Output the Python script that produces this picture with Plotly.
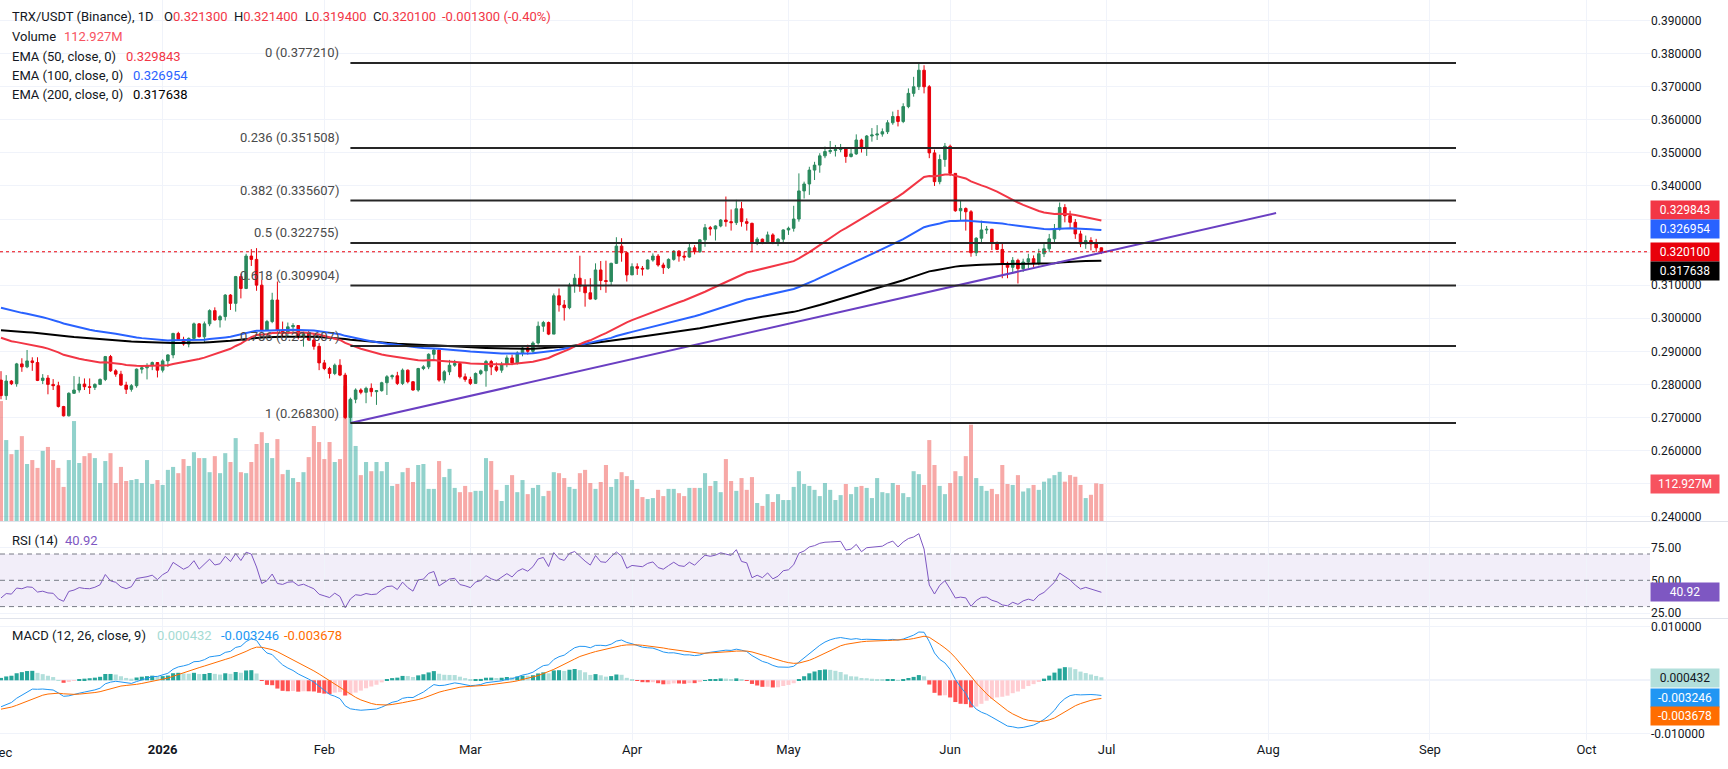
import pandas as pd
import plotly.graph_objects as go

# ---------------- data ----------------
start_date = "2025-12-01"
first_open = 0.2813

close = [
    0.2766, 0.2810, 0.2802, 0.2862, 0.2853, 0.2871, 0.2866, 0.2812, 0.2819, 0.2800,
    0.2796, 0.2733, 0.2705, 0.2773, 0.2783, 0.2801, 0.2793, 0.2791, 0.2800, 0.2815,
    0.2884, 0.2841, 0.2831, 0.2798, 0.2785, 0.2796, 0.2846, 0.2850, 0.2857, 0.2866,
    0.2843, 0.2871, 0.2889, 0.2954, 0.2936, 0.2922, 0.2939, 0.2983, 0.2944, 0.2983,
    0.3023, 0.2995, 0.3005, 0.3070, 0.3045, 0.3126, 0.3090, 0.3188, 0.3178, 0.3100,
    0.2964, 0.2990, 0.3055, 0.2964, 0.2954, 0.2974, 0.2978, 0.2944, 0.2954, 0.2934,
    0.2915, 0.2865, 0.2848, 0.2833, 0.2858, 0.2828, 0.2700, 0.2755, 0.2783, 0.2776,
    0.2788, 0.2778, 0.2781, 0.2805, 0.2823, 0.2826, 0.2803, 0.2843, 0.2808, 0.2783,
    0.2848, 0.2853, 0.2891, 0.2904, 0.2813, 0.2838, 0.2858, 0.2863, 0.2823, 0.2815,
    0.2803, 0.2833, 0.2841, 0.2869, 0.2853, 0.2843, 0.2860, 0.2880, 0.2865, 0.2895,
    0.2910, 0.2900, 0.2925, 0.2976, 0.2987, 0.2952, 0.3068, 0.3040, 0.3032, 0.3100,
    0.3121, 0.3097, 0.3077, 0.3058, 0.3146, 0.3114, 0.3111, 0.3166, 0.3218, 0.3198,
    0.3131, 0.3156, 0.3151, 0.3149, 0.3176, 0.3188, 0.3161, 0.3153, 0.3178, 0.3203,
    0.3188, 0.3185, 0.3213, 0.3201, 0.3237, 0.3274, 0.3270, 0.3279, 0.3297, 0.3292,
    0.3289, 0.3331, 0.3292, 0.3287, 0.3226, 0.3239, 0.3228, 0.3252, 0.3226, 0.3239,
    0.3267, 0.3272, 0.3300, 0.3385, 0.3406, 0.3448, 0.3463, 0.3491, 0.3504, 0.3507,
    0.3510, 0.3514, 0.3489, 0.3497, 0.3539, 0.3517, 0.3551, 0.3554, 0.3557, 0.3564,
    0.3591, 0.3610, 0.3595, 0.3640, 0.3680, 0.3700, 0.3750, 0.3700, 0.3500, 0.3413,
    0.3480, 0.3520, 0.3438, 0.3325, 0.3332, 0.3322, 0.3198, 0.3242, 0.3267, 0.3269,
    0.3229, 0.3208, 0.3166, 0.3154, 0.3175, 0.3150, 0.3170, 0.3180, 0.3165, 0.3195,
    0.3210, 0.3240, 0.3270, 0.3335, 0.3310, 0.3290, 0.3255, 0.3225, 0.3235, 0.3225,
    0.3213, 0.3201,
]
high = [
    0.2840, 0.2828, 0.2813, 0.2865, 0.2879, 0.2904, 0.2882, 0.2882, 0.2831, 0.2828,
    0.2816, 0.2808, 0.2735, 0.2776, 0.2825, 0.2823, 0.2818, 0.2818, 0.2803, 0.2818,
    0.2886, 0.2889, 0.2846, 0.2841, 0.2808, 0.2801, 0.2848, 0.2853, 0.2864, 0.2869,
    0.2866, 0.2876, 0.2891, 0.2956, 0.2959, 0.2944, 0.2942, 0.2987, 0.2985, 0.2990,
    0.3027, 0.3033, 0.3010, 0.3073, 0.3073, 0.3128, 0.3135, 0.3195, 0.3209, 0.3212,
    0.3116, 0.2995, 0.3077, 0.3111, 0.2990, 0.2987, 0.2985, 0.2969, 0.2959, 0.2962,
    0.2954, 0.2925, 0.2874, 0.2853, 0.2863, 0.2876, 0.2835, 0.2760, 0.2788, 0.2788,
    0.2793, 0.2803, 0.2783, 0.2808, 0.2828, 0.2830, 0.2838, 0.2848, 0.2845, 0.2810,
    0.2850, 0.2858, 0.2894, 0.2909, 0.2906, 0.2843, 0.2874, 0.2874, 0.2858, 0.2833,
    0.2823, 0.2836, 0.2845, 0.2874, 0.2874, 0.2866, 0.2868, 0.2888, 0.2890, 0.2900,
    0.2918, 0.2920, 0.2930, 0.2990, 0.2992, 0.2990, 0.3075, 0.3090, 0.3055, 0.3107,
    0.3134, 0.3189, 0.3118, 0.3121, 0.3166, 0.3173, 0.3174, 0.3168, 0.3245, 0.3242,
    0.3201, 0.3166, 0.3166, 0.3158, 0.3178, 0.3196, 0.3194, 0.3168, 0.3181, 0.3206,
    0.3206, 0.3201, 0.3228, 0.3221, 0.3239, 0.3285, 0.3279, 0.3281, 0.3300, 0.3368,
    0.3329, 0.3358, 0.3352, 0.3302, 0.3289, 0.3245, 0.3241, 0.3262, 0.3257, 0.3242,
    0.3269, 0.3277, 0.3340, 0.3438, 0.3413, 0.3458, 0.3473, 0.3499, 0.3519, 0.3536,
    0.3524, 0.3527, 0.3517, 0.3517, 0.3556, 0.3543, 0.3554, 0.3575, 0.3584, 0.3574,
    0.3599, 0.3625, 0.3630, 0.3650, 0.3695, 0.3730, 0.37721, 0.3765, 0.3705, 0.3510,
    0.3495, 0.3530, 0.3525, 0.3438, 0.3357, 0.3335, 0.3327, 0.3245, 0.3295, 0.3279,
    0.3270, 0.3232, 0.3229, 0.3171, 0.3185, 0.3180, 0.3180, 0.3195, 0.3190, 0.3210,
    0.3230, 0.3255, 0.3285, 0.3350, 0.3345, 0.3325, 0.3300, 0.3265, 0.3250, 0.3245,
    0.3240, 0.3214,
]
low = [
    0.2755, 0.2753, 0.2798, 0.2793, 0.2838, 0.2849, 0.2841, 0.2810, 0.2801, 0.2770,
    0.2783, 0.2730, 0.2703, 0.2703, 0.2771, 0.2775, 0.2783, 0.2771, 0.2783, 0.2798,
    0.2810, 0.2838, 0.2823, 0.2796, 0.2771, 0.2778, 0.2790, 0.2833, 0.2815, 0.2843,
    0.2821, 0.2836, 0.2853, 0.2879, 0.2934, 0.2917, 0.2912, 0.2936, 0.2942, 0.2926,
    0.2976, 0.2993, 0.2972, 0.2993, 0.3025, 0.3020, 0.3060, 0.3088, 0.3158, 0.3083,
    0.2960, 0.2962, 0.2985, 0.2959, 0.2944, 0.2944, 0.2957, 0.2936, 0.2914, 0.2932,
    0.2905, 0.2843, 0.2843, 0.2818, 0.2828, 0.2825, 0.2695, 0.2683, 0.2743, 0.2770,
    0.2743, 0.2763, 0.2738, 0.2778, 0.2768, 0.2815, 0.2798, 0.2798, 0.2803, 0.2781,
    0.2778, 0.2843, 0.2846, 0.2874, 0.2808, 0.2803, 0.2828, 0.2853, 0.2818, 0.2808,
    0.2798, 0.2803, 0.2828, 0.2793, 0.2828, 0.2838, 0.2835, 0.2852, 0.2858, 0.2860,
    0.2885, 0.2890, 0.2895, 0.2920, 0.2959, 0.2949, 0.2952, 0.3020, 0.2993, 0.3027,
    0.3077, 0.3080, 0.3035, 0.3057, 0.3055, 0.3085, 0.3077, 0.3099, 0.3164, 0.3171,
    0.3111, 0.3131, 0.3131, 0.3129, 0.3148, 0.3171, 0.3156, 0.3134, 0.3149, 0.3174,
    0.3171, 0.3174, 0.3183, 0.3193, 0.3198, 0.3216, 0.3250, 0.3235, 0.3275, 0.3277,
    0.3265, 0.3282, 0.3277, 0.3265, 0.3201, 0.3221, 0.3224, 0.3226, 0.3224, 0.3218,
    0.3226, 0.3252, 0.3262, 0.3292, 0.3362, 0.3373, 0.3418, 0.3440, 0.3484, 0.3497,
    0.3489, 0.3502, 0.3470, 0.3486, 0.3494, 0.3501, 0.3491, 0.3534, 0.3539, 0.3549,
    0.3557, 0.3585, 0.3580, 0.3590, 0.3635, 0.3670, 0.3690, 0.3680, 0.3484, 0.3400,
    0.3405, 0.3458, 0.3430, 0.3322, 0.3295, 0.3265, 0.3186, 0.3188, 0.3227, 0.3255,
    0.3206, 0.3206, 0.3121, 0.3121, 0.3135, 0.3105, 0.3140, 0.3150, 0.3155, 0.3160,
    0.3185, 0.3200, 0.3230, 0.3265, 0.3290, 0.3270, 0.3240, 0.3215, 0.3210, 0.3205,
    0.3200, 0.3194,
]
volume_m = [
    366, 247, 204, 217, 259, 174, 186, 162, 214, 226,
    186, 162, 104, 186, 305, 177, 198, 207, 192, 116,
    183, 207, 116, 165, 122, 125, 128, 116, 186, 113,
    125, 110, 156, 165, 146, 189, 168, 210, 192, 192,
    149, 198, 146, 207, 180, 253, 149, 146, 180, 235,
    271, 238, 192, 250, 143, 156, 131, 119, 149, 195,
    290, 241, 189, 241, 180, 189, 413, 369, 229, 140,
    180, 152, 180, 152, 180, 107, 113, 149, 162, 119,
    171, 174, 98, 98, 183, 134, 159, 101, 88, 107,
    88, 92, 92, 192, 183, 95, 61, 110, 140, 88,
    125, 82, 101, 110, 76, 92, 149, 146, 131, 104,
    98, 146, 156, 116, 98, 119, 171, 104, 128, 149,
    137, 125, 98, 73, 67, 70, 95, 76, 98, 98,
    85, 76, 101, 101, 101, 146, 107, 122, 88, 189,
    122, 92, 131, 95, 134, 55, 46, 82, 58, 82,
    64, 64, 104, 152, 113, 107, 95, 76, 116, 95,
    64, 79, 113, 82, 104, 107, 101, 70, 131, 88,
    85, 116, 110, 85, 73, 152, 143, 110, 247, 171,
    107, 82, 116, 152, 137, 198, 294, 131, 107, 92,
    98, 82, 171, 113, 110, 140, 90, 100, 110, 95,
    120, 130, 140, 150, 120, 140, 135, 110, 70, 80,
    115, 112.927,
]

# indicator seeds (state just before the first visible bar)
ema_seeds = {50: 0.2948, 100: 0.3037, 200: 0.2966}
macd_seeds = {"fast": 0.2805, "slow": 0.2855, "signal": -0.0055}
rsi_seeds = {"avg_gain": 0.0024, "avg_loss": 0.0038}

# Fibonacci retracement (anchors + level values shown on the chart)
fib_dates = ["2026-02-06", "2026-09-06"]
fib_ratios = ["0", "0.236", "0.382", "0.5", "0.618", "0.786", "1"]
fib_values = [0.377210, 0.351508, 0.335607, 0.322755, 0.309904, 0.291607, 0.268300]

# trendline anchors
trend_dates = ["2026-02-06", "2026-08-02 12:00"]
trend_prices = [0.2683, 0.3318]

# last-value labels
last_vals = {"ema50": 0.329843, "ema100": 0.326954, "ema200": 0.317638,
             "close": 0.320100, "volume": 112.927, "rsi": 40.92,
             "hist": 0.000432, "macd": -0.003246, "signal": -0.003678}

month_ticks = ["2025-12-01", "2026-01-01", "2026-02-01", "2026-03-01", "2026-04-01",
               "2026-05-01", "2026-06-01", "2026-07-01", "2026-08-01", "2026-09-01",
               "2026-10-01"]
month_labels = ["", "<b>2026</b>", "Feb", "Mar", "Apr", "May", "Jun", "Jul", "Aug",
                "Sep", "Oct"]
first_month_label = "Dec"
price_ticks = [0.24, 0.25, 0.26, 0.27, 0.28, 0.29, 0.30, 0.31, 0.32, 0.33, 0.34,
               0.35, 0.36, 0.37, 0.38, 0.39]
# tick labels that sit completely under the last-value boxes
price_ticks_hidden = [0.25, 0.32, 0.33]

# ---------------- derived ----------------
n = len(close)
dates = pd.date_range(start_date, periods=n, freq="D")
opens = [first_open] + close[:-1]


def ema(vals, period, seed):
    a = 2.0 / (period + 1)
    e = seed
    out = []
    for v in vals:
        e = e + a * (v - e)
        out.append(e)
    return out


ema50 = ema(close, 50, ema_seeds[50])
ema100 = ema(close, 100, ema_seeds[100])
ema200 = ema(close, 200, ema_seeds[200])
fast = ema(close, 12, macd_seeds["fast"])
slow = ema(close, 26, macd_seeds["slow"])
macd = [f - s for f, s in zip(fast, slow)]
signal = ema(macd, 9, macd_seeds["signal"])
hist = [m - s for m, s in zip(macd, signal)]

ag, al = rsi_seeds["avg_gain"], rsi_seeds["avg_loss"]
rsi = []
prev = first_open
for c in close:
    ch = c - prev
    ag = (ag * 13 + max(ch, 0)) / 14
    al = (al * 13 + max(-ch, 0)) / 14
    rsi.append(100 - 100 / (1 + ag / al))
    prev = c

hist_colors = []
for i, h in enumerate(hist):
    p = hist[i - 1] if i > 0 else h
    if h >= 0:
        hist_colors.append("#26a69a" if h >= p else "#b2dfdb")
    else:
        hist_colors.append("#ffcdd2" if h >= p else "#ff5252")

vol_colors = ["rgba(38,166,154,0.5)" if c >= o else "rgba(239,83,80,0.5)"
              for o, c in zip(opens, close)]

# ---------------- figure ----------------
FONT = "Roboto, 'Noto Sans', sans-serif"
TXT = "#131722"
GRID = "#f0f3fa"
UP = "#2b8a5e"
DOWN = "#e8000b"

fig = go.Figure()

fig.add_trace(go.Bar(x=dates, y=volume_m, marker=dict(color=vol_colors, line=dict(width=0)),
                     xaxis="x", yaxis="y", showlegend=False))
fig.add_trace(go.Candlestick(x=dates, open=opens, high=high, low=low, close=close,
                             increasing=dict(line=dict(color=UP, width=1), fillcolor=UP),
                             decreasing=dict(line=dict(color=DOWN, width=1), fillcolor=DOWN),
                             whiskerwidth=0, xaxis="x", yaxis="y4", showlegend=False))
fig.add_trace(go.Scatter(x=dates, y=ema200, mode="lines", line=dict(color="#000000", width=2),
                         xaxis="x", yaxis="y4", showlegend=False))
fig.add_trace(go.Scatter(x=dates, y=ema100, mode="lines", line=dict(color="#2962ff", width=2),
                         xaxis="x", yaxis="y4", showlegend=False))
fig.add_trace(go.Scatter(x=dates, y=ema50, mode="lines", line=dict(color="#f23645", width=2),
                         xaxis="x", yaxis="y4", showlegend=False))
fig.add_trace(go.Scatter(x=trend_dates, y=trend_prices, mode="lines",
                         line=dict(color="#6a3fc2", width=2),
                         xaxis="x", yaxis="y4", showlegend=False))
for v in fib_values:
    fig.add_trace(go.Scatter(x=fib_dates, y=[v, v], mode="lines",
                             line=dict(color="#262626", width=2),
                             xaxis="x", yaxis="y4", showlegend=False))

# RSI
fig.add_trace(go.Scatter(x=dates, y=rsi, mode="lines", line=dict(color="#7e57c2", width=1),
                         xaxis="x2", yaxis="y2", showlegend=False))
# MACD
fig.add_trace(go.Bar(x=dates, y=hist, marker=dict(color=hist_colors, line=dict(width=0)),
                     xaxis="x3", yaxis="y3", showlegend=False))
fig.add_trace(go.Scatter(x=dates, y=macd, mode="lines", line=dict(color="#2196f3", width=1),
                         xaxis="x3", yaxis="y3", showlegend=False))
fig.add_trace(go.Scatter(x=dates, y=signal, mode="lines", line=dict(color="#ff6d00", width=1),
                         xaxis="x3", yaxis="y3", showlegend=False))

H_PLOT = 740.0
W_PLOT = 1650.0


def py(px):
    return (H_PLOT - px) / H_PLOT


xrange = ["2025-11-30 19:24", "2026-10-13 04:48"]
xcommon = dict(range=xrange, type="date", tickvals=month_ticks, ticktext=month_labels,
               showgrid=True, gridcolor=GRID, gridwidth=1, zeroline=False,
               showline=False, ticks="")

price_text = ["" if t in price_ticks_hidden else "%.6f" % t for t in price_ticks]

fig.update_layout(
    width=1728, height=769,
    margin=dict(l=0, r=78, t=0, b=29),
    paper_bgcolor="white", plot_bgcolor="white",
    font=dict(family=FONT, size=12, color=TXT),
    bargap=0.22,
    showlegend=False,
    xaxis=dict(**xcommon, anchor="y", showticklabels=False, rangeslider=dict(visible=False)),
    xaxis2=dict(**xcommon, anchor="y2", matches="x", showticklabels=False),
    xaxis3=dict(**xcommon, anchor="y3", matches="x", showticklabels=True,
                tickfont=dict(size=13, color=TXT)),
    yaxis=dict(domain=[py(521), 1.0], range=[0, 1590], visible=False, fixedrange=True),
    yaxis4=dict(overlaying="y", side="right", anchor="x", range=[0.23869, 0.39623],
                tickvals=price_ticks, ticktext=price_text,
                showgrid=True, gridcolor=GRID, zeroline=False, ticks="",
                tickfont=dict(size=12, color=TXT)),
    yaxis2=dict(domain=[py(618), py(522)], range=[21.33, 94.33], side="right", anchor="x2",
                tickvals=[25, 50, 75], ticktext=["25.00", "50.00", "75.00"],
                showgrid=True, gridcolor=GRID, zeroline=False, ticks="",
                tickfont=dict(size=12, color=TXT)),
    yaxis3=dict(domain=[0.0, py(619)], range=[-0.011138, 0.011437], side="right", anchor="x3",
                tickvals=[-0.01, 0.01], ticktext=["-0.010000", "0.010000"],
                showgrid=True, gridcolor=GRID, zeroline=True, zerolinecolor=GRID,
                ticks="", tickfont=dict(size=12, color=TXT)),
)

shapes = []
# RSI band and dashed levels
shapes.append(dict(type="rect", xref="x2 domain", x0=0, x1=1, yref="y2", y0=30, y1=70,
                   fillcolor="rgba(126,87,194,0.1)", line=dict(width=0), layer="below"))
for lv in (70, 50, 30):
    shapes.append(dict(type="line", xref="x2 domain", x0=0, x1=1, yref="y2", y0=lv, y1=lv,
                       line=dict(color="#787b86", width=1, dash="5px,4px")))
# last price dotted line
shapes.append(dict(type="line", xref="x domain", x0=0, x1=1, yref="y4",
                   y0=last_vals["close"], y1=last_vals["close"],
                   line=dict(color="#e8000b", width=1, dash="dot")))
# pane separators
for sep in (521.5, 618.5):
    shapes.append(dict(type="line", xref="paper", x0=0, x1=1728 / W_PLOT, yref="paper",
                       y0=py(sep), y1=py(sep), line=dict(color="#e0e3eb", width=1)))
fig.update_layout(shapes=shapes)

ann = []


def txt(xpx, ypx, text, color=TXT, size=13):
    ann.append(dict(xref="paper", yref="paper", x=xpx / W_PLOT, y=py(ypx), text=text,
                    showarrow=False, xanchor="left", yanchor="middle",
                    font=dict(family=FONT, size=size, color=color)))


RED = "#f23645"
txt(10, 16.7, "TRX/USDT (Binance), 1D")
txt(162, 16.7, "O<span style='color:%s'>0.321300</span>" % RED)
txt(232, 16.7, "H<span style='color:%s'>0.321400</span>" % RED)
txt(303, 16.7, "L<span style='color:%s'>0.319400</span>" % RED)
txt(371, 16.7, "C<span style='color:%s'>0.320100</span>" % RED)
txt(440, 16.7, "-0.001300 (-0.40%)", RED)
txt(10, 36.7, "Volume")
txt(62, 36.7, "112.927M", "#f7525f")
txt(10, 56, "EMA (50, close, 0)")
txt(124, 56, "%.6f" % last_vals["ema50"], RED)
txt(10, 75.7, "EMA (100, close, 0)")
txt(131, 75.7, "%.6f" % last_vals["ema100"], "#2962ff")
txt(10, 94.3, "EMA (200, close, 0)")
txt(131, 94.3, "%.6f" % last_vals["ema200"], "#000000")
txt(10, 540.7, "RSI (14)")
txt(63, 540.7, "%.2f" % last_vals["rsi"], "#7e57c2")
txt(10, 635.7, "MACD (12, 26, close, 9)")
txt(155, 635.7, "%.6f" % last_vals["hist"], "#a5dbd3")
txt(219, 635.7, "%.6f" % last_vals["macd"], "#2196f3")
txt(282, 635.7, "%.6f" % last_vals["signal"], "#ff6d00")

# first month label, clipped by the left edge as in the original
ann.append(dict(xref="x3", yref="paper", x=month_ticks[0], y=py(752), text=first_month_label,
                showarrow=False, xanchor="center", yanchor="middle",
                font=dict(family=FONT, size=13, color=TXT)))

# fib labels
for r, v in zip(fib_ratios, fib_values):
    ann.append(dict(xref="x", yref="y4", x=fib_dates[0], y=v, text="%s (%.6f)" % (r, v),
                    showarrow=False, xanchor="right", yanchor="middle", xshift=-9, yshift=10,
                    font=dict(family=FONT, size=13, color="#4a4a4a")))


def box(yref, y, text, bg, fg="white", yshift=0):
    ann.append(dict(xref="paper", x=1.0, yref=yref, y=y, text=text, showarrow=False,
                    xanchor="left", yanchor="middle", yshift=yshift, bgcolor=bg,
                    width=64, height=14, borderpad=2, align="center",
                    font=dict(family=FONT, size=12, color=fg)))


box("y4", last_vals["ema50"], "%.6f" % last_vals["ema50"], "#f23645", yshift=10)
box("y4", last_vals["ema100"], "%.6f" % last_vals["ema100"], "#2962ff")
box("y4", last_vals["close"], "%.6f" % last_vals["close"], "#e8000b")
box("y4", last_vals["ema200"], "%.6f" % last_vals["ema200"], "#000000", yshift=-11)
box("y", last_vals["volume"], "112.927M", "#f7525f")
box("y2", last_vals["rsi"], "%.2f" % last_vals["rsi"], "#7e57c2")
box("y3", last_vals["hist"], "%.6f" % last_vals["hist"], "#b2dfdb", fg="#131722")
box("y3", last_vals["macd"], "%.6f" % last_vals["macd"], "#2196f3")
box("y3", last_vals["signal"], "%.6f" % last_vals["signal"], "#ff6d00", yshift=-16)

fig.update_layout(annotations=ann)

fig.write_html("out.html")
